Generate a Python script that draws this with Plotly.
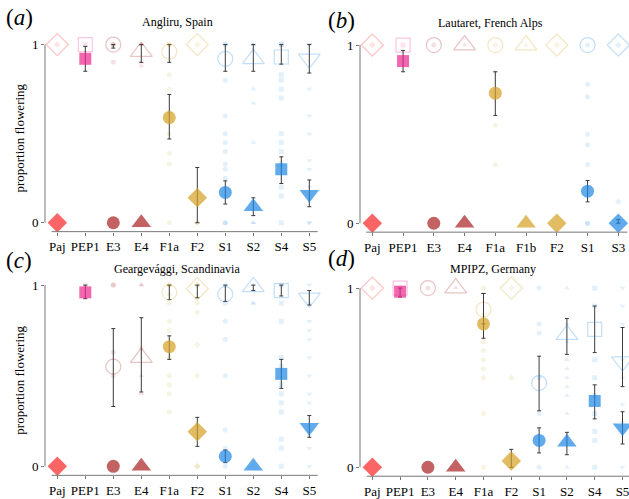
import plotly.graph_objects as go

W, H = 629, 499

# ---------------- data ----------------
cats_a = ["Paj", "PEP1", "E3", "E4", "F1a", "F2", "S1", "S2", "S4", "S5"]
cats_b = ["Paj", "PEP1", "E3", "E4", "F1a", "F1b", "F2", "S1", "S3"]
cats_c = ["Paj", "PEP1", "E3", "E4", "F1a", "F2", "S1", "S2", "S4", "S5"]
cats_d = ["Paj", "PEP1", "E3", "E4", "F1a", "F2", "S1", "S2", "S4", "S5"]

# filled (mean, lower, upper)
fill_a = [0, 0.92, 0, 0, 0.59, 0.14, 0.17, 0.09, 0.30, 0.16]
fill_lo_a = [0, 0.85, 0, 0, 0.47, 0.0, 0.105, 0.04, 0.22, 0.09]
fill_hi_a = [0, 0.99, 0, 0, 0.72, 0.31, 0.235, 0.14, 0.37, 0.24]
open_a = [1, 1, 1, 0.96, 0.96, 1, 0.92, 0.92, 0.93, 0.92]
open_lo_a = [1, 1, 0.98, 0.90, 0.90, 1, 0.85, 0.85, 0.89, 0.84]
open_hi_a = [1, 1, 1, 1, 1, 1, 1, 1, 1, 1]

fill_b = [0, 0.91, 0, 0, 0.73, 0, 0, 0.18, 0]
fill_lo_b = [0, 0.85, 0, 0, 0.605, 0, 0, 0.12, 0]
fill_hi_b = [0, 0.97, 0, 0, 0.85, 0, 0, 0.24, 0.02]
open_b = [1, 1, 1, 1, 1, 1, 1, 1, 1]
open_lo_b = [1, 1, 1, 1, 1, 1, 1, 1, 1]
open_hi_b = [1, 1, 1, 1, 1, 1, 1, 1, 1]

fill_c = [0, 0.96, 0, 0, 0.66, 0.19, 0.055, 0, 0.51, 0.215]
fill_lo_c = [0, 0.925, 0, 0, 0.59, 0.11, 0.02, 0, 0.43, 0.16]
fill_hi_c = [0, 1.0, 0, 0, 0.72, 0.27, 0.09, 0, 0.59, 0.28]
open_c = [None, None, 0.55, 0.60, 0.96, 0.98, 0.95, 0.99, 0.97, 0.93]
open_lo_c = [None, None, 0.33, 0.41, 0.92, 0.93, 0.91, 0.97, 0.94, 0.89]
open_hi_c = [None, None, 0.76, 0.82, 1, 1, 1, 1, 1, 0.97]

fill_d = [0, 0.98, 0, 0, 0.80, 0.035, 0.15, 0.14, 0.37, 0.22]
fill_lo_d = [0, 0.95, 0, 0, 0.72, 0, 0.08, 0.07, 0.27, 0.13]
fill_hi_d = [0, 1.0, 0, 0, 0.97, 0.10, 0.22, 0.195, 0.46, 0.31]
open_d = [1, 1, 1, 1, 0.88, 1, 0.47, 0.74, 0.77, 0.59]
open_lo_d = [1, 1, 1, 1, 0.80, 1, 0.315, 0.63, 0.64, 0.45]
open_hi_d = [1, 1, 1, 1, 0.97, 1, 0.62, 0.83, 0.90, 0.78]

# individual replicate proportions (faint points)
pts_a = [[1], [1], [1, 1, 0.9], [1, 1, 0.88, 0.9],
         [1, 1, 0.83, 0.75, 0.62, 0.5, 0.39, 0.33, 0], [1, 0, 0],
         [1, 1, 0.8, 0.6, 0.5, 0.45, 0.4, 0.33, 0.3, 0.25, 0, 0],
         [1, 1, 0.75, 0.67, 0.45, 0, 0],
         [1, 1, 0.83, 0.8, 0.75, 0.7, 0.5, 0.45, 0.4, 0.33, 0.2, 0.15, 0],
         [1, 1, 0.75, 0.6, 0.5, 0.35, 0.3, 0.2, 0, 0]]
pts_b = [[1], [1], [1], [1], [1, 0.85, 0.55, 0.33], [1], [1],
         [1, 0.78, 0.71, 0.5, 0.44, 0.33, 0, 0], [1, 0.12, 0]]
pts_c = [[], [1], [1, 1, 0.63, 0.5], [1, 1, 0.65, 0.5, 0.4],
         [1, 1, 0.95, 0.9, 0.8, 0.75, 0.6, 0.5, 0.45, 0.4, 0.3],
         [1, 1, 0.9, 0.85, 0.67, 0.5, 0, 0],
         [1, 0.9, 0.8, 0.7, 0.5, 0.2, 0.1, 0],
         [1, 0.9, 0.9],
         [1, 0.9, 0.8, 0.6, 0.55, 0.45, 0.4, 0.35, 0.3, 0.15, 0.1, 0],
         [1, 0.9, 0.8, 0.75, 0.7, 0.6, 0.5, 0.4, 0.35, 0.1, 0]]
pts_d = [[1], [1], [1], [1], [1, 0.85, 0.7, 0.65, 0.6, 0.55, 0.5, 0.3, 0],
         [1, 0.5], [1, 0.8, 0.75, 0.5, 0.3, 0],
         [1, 0.8, 0.7, 0.6, 0.55, 0.5, 0.45, 0.4, 0.3, 0],
         [1, 0.9, 0.6, 0.5, 0.4, 0.3, 0.2, 0.15, 0],
         [1, 0.9, 0.8, 0.6, 0.5, 0.35, 0.25, 0]]

titles = ["Angliru, Spain", "Lautaret, French Alps",
          "Geargevággi, Scandinavia", "MPIPZ, Germany"]
letters = ["a", "b", "c", "d"]

# ---------------- styles ----------------
SYM = {"Paj": "diamond", "PEP1": "square", "E3": "circle", "E4": "triangle-up",
       "F1a": "circle", "F1b": "triangle-up", "F2": "diamond", "S1": "circle",
       "S2": "triangle-up", "S3": "diamond", "S4": "square", "S5": "triangle-down"}
RGB = {"Paj": (250, 35, 35), "PEP1": (236, 40, 140), "E3": (168, 32, 32),
       "E4": (168, 32, 32), "F1a": (212, 160, 32), "F1b": (212, 160, 32),
       "F2": (212, 160, 32), "S1": (30, 136, 229), "S2": (30, 136, 229),
       "S3": (30, 136, 229), "S4": (30, 136, 229), "S5": (30, 136, 229)}
SIZE = {"circle": 13, "square": 12, "diamond": 15, "triangle-up": 17, "triangle-down": 17}


def rgba(c, a):
    return "rgba(%d,%d,%d,%.2f)" % (c[0], c[1], c[2], a)


FONT = "Liberation Serif, Times New Roman, Times, serif"

# panel geometry in pixels: (x_left_axis, x_right, first_cat_px, spacing, y_one_px, y_zero_px,
#                            title_x, title_y, letter_x, letter_y)
geom = [
    (45, 322, 57.3, 28.0, 45.0, 225.0, 177, 22, 4, 18),
    (360, 629, 372.3, 30.75, 45.5, 225.5, 490, 23, 326, 21),
    (45, 322, 57.3, 28.0, 288.0, 471.0, 177, 272, 4, 263),
    (360, 629, 372.3, 27.8, 291.0, 472.0, 493, 272, 326, 261),
]
panels = [
    (cats_a, fill_a, fill_lo_a, fill_hi_a, open_a, open_lo_a, open_hi_a, pts_a),
    (cats_b, fill_b, fill_lo_b, fill_hi_b, open_b, open_lo_b, open_hi_b, pts_b),
    (cats_c, fill_c, fill_lo_c, fill_hi_c, open_c, open_lo_c, open_hi_c, pts_c),
    (cats_d, fill_d, fill_lo_d, fill_hi_d, open_d, open_lo_d, open_hi_d, pts_d),
]

fig = go.Figure()
layout = dict(width=W, height=H, margin=dict(l=0, r=0, t=0, b=0),
              plot_bgcolor="white", paper_bgcolor="white", showlegend=False,
              font=dict(family=FONT, size=13, color="black"))
shapes, annotations = [], []
Y_LO, Y_HI = -0.05, 1.055


def add_markers(cats, means, lows, highs, is_open, xa, ya):
    with_err, no_err = [], []
    for i, m in enumerate(means):
        if m is None:
            continue
        if abs(highs[i] - m) < 1e-9 and abs(m - lows[i]) < 1e-9:
            no_err.append(i)
        else:
            with_err.append(i)
    for group, has_err in ((no_err, False), (with_err, True)):
        if not group:
            continue
        sym = [SYM[cats[i]] + ("-open" if is_open else "") for i in group]
        col = [rgba(RGB[cats[i]], 0.38 if is_open else 1.0) for i in group]
        size = [SIZE[SYM[cats[i]]] + (2 if is_open else 0) for i in group]
        kw = {}
        if has_err:
            kw["error_y"] = dict(type="data", symmetric=False,
                                 array=[highs[i] - means[i] for i in group],
                                 arrayminus=[means[i] - lows[i] for i in group],
                                 color="#3a3a3a", thickness=1, width=2)
        fig.add_trace(go.Scatter(
            x=group, y=[means[i] for i in group], mode="markers", xaxis=xa, yaxis=ya,
            cliponaxis=False, hoverinfo="skip",
            marker=dict(symbol=sym, color=col, size=size,
                        line=dict(width=1.2 if is_open else 0)), **kw))


for k, (p, g) in enumerate(zip(panels, geom)):
    cats, fm, flo, fhi, om, olo, ohi, pts = p
    xl, xr, c0, sp, y1, y0, tx, ty, lx, ly = g
    n = len(cats)
    idx = k + 1
    xa = "x" if idx == 1 else "x%d" % idx
    ya = "y" if idx == 1 else "y%d" % idx
    scale = y0 - y1
    top_px = y1 - (Y_HI - 1) * scale
    bot_px = y0 - Y_LO * scale
    xrange = [(xl - c0) / sp, (xr - c0) / sp]

    # faint points
    px, py, ps, pc = [], [], [], []
    for i, vals in enumerate(pts):
        for v in vals:
            px.append(i); py.append(v)
            ps.append(SYM[cats[i]]); pc.append(rgba(RGB[cats[i]], 0.13))
    fig.add_trace(go.Scatter(x=px, y=py, mode="markers", xaxis=xa, yaxis=ya,
                             cliponaxis=False, hoverinfo="skip",
                             marker=dict(symbol=ps, color=pc, size=5, line=dict(width=0))))
    add_markers(cats, om, olo, ohi, True, xa, ya)
    add_markers(cats, fm, flo, fhi, False, xa, ya)

    layout["xaxis" if idx == 1 else "xaxis%d" % idx] = dict(
        domain=[xl / W, xr / W], range=xrange, anchor=ya,
        tickvals=list(range(n)), ticktext=cats, ticks="outside", ticklen=3,
        tickcolor="#777", showgrid=False, zeroline=False, showline=False,
        ticklabeloverflow="allow",
        tickfont=dict(family=FONT, size=13, color="black"), fixedrange=True)
    layout["yaxis" if idx == 1 else "yaxis%d" % idx] = dict(
        domain=[1 - bot_px / H, 1 - top_px / H], range=[Y_LO, Y_HI], anchor=xa,
        tickvals=[0, 1], ticktext=["0", "1"], ticks="outside", ticklen=3,
        tickcolor="#777", showgrid=False, zeroline=False, showline=False,
        tickfont=dict(family=FONT, size=13, color="black"), fixedrange=True)
    # capped axis lines
    shapes.append(dict(type="line", xref=xa + " domain", yref=ya, x0=0, x1=0, y0=0, y1=1,
                       line=dict(color="#777", width=1)))
    shapes.append(dict(type="line", xref=xa, yref=ya + " domain", x0=-0.2, x1=n - 1 + 0.3,
                       y0=0, y1=0, line=dict(color="#777", width=1)))
    annotations.append(dict(text=titles[k], xref="paper", yref="paper",
                            x=tx / W, y=1 - ty / H, showarrow=False,
                            xanchor="center", yanchor="middle",
                            font=dict(family=FONT, size=12)))
    annotations.append(dict(text="(<i>%s</i>)" % letters[k], xref="paper", yref="paper",
                            x=lx / W, y=1 - ly / H, showarrow=False,
                            xanchor="left", yanchor="middle",
                            font=dict(family=FONT, size=23)))
    if k % 2 == 0:
        annotations.append(dict(text="proportion flowering", xref="paper", yref="paper",
                                x=20 / W, y=1 - ((y1 + y0) / 2 + 5) / H, textangle=-90,
                                showarrow=False, xanchor="center", yanchor="middle",
                                font=dict(family=FONT, size=13)))

layout["shapes"] = shapes
layout["annotations"] = annotations
fig.update_layout(**layout)
fig.write_html("out.html")
